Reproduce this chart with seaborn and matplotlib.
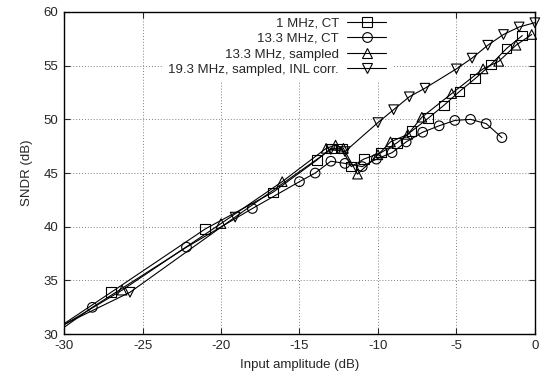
import numpy as np
import matplotlib
matplotlib.use('Agg')
import matplotlib.pyplot as plt
import seaborn as sns
from matplotlib.lines import Line2D

# data (x = input amplitude dB, y = SNDR dB)
# first point of each series lies left of the axis so the line enters from the edge
x_1mhz_ct = [-31, -27.0, -21.0, -16.7, -13.9, -13.0, -12.3, -11.7, -10.9, -9.8, -8.8, -7.85, -6.8, -5.8, -4.8, -3.8, -2.8, -1.8, -0.8]
y_1mhz_ct = [30.0, 33.9, 39.8, 43.2, 46.2, 47.3, 47.3, 45.6, 46.3, 46.9, 47.8, 48.9, 50.1, 51.3, 52.6, 53.8, 55.1, 56.6, 57.8]

x_13mhz_ct = [-31, -28.2, -22.2, -18.0, -15.0, -14.0, -13.0, -12.1, -11.0, -10.1, -9.1, -8.2, -7.15, -6.1, -5.1, -4.1, -3.1, -2.1]
y_13mhz_ct = [29.6, 32.5, 38.1, 41.7, 44.2, 45.0, 46.1, 45.9, 45.6, 46.3, 46.9, 47.9, 48.8, 49.4, 49.9, 50.0, 49.6, 48.3]

x_13mhz_samp = [-31, -26.3, -20.0, -16.1, -13.3, -12.7, -12.2, -11.3, -10.0, -9.2, -8.1, -7.2, -5.3, -3.3, -2.3, -1.2, -0.2]
y_13mhz_samp = [30.0, 34.1, 40.3, 44.2, 47.3, 47.6, 47.3, 44.9, 46.7, 47.9, 48.6, 50.2, 52.4, 54.7, 55.4, 56.9, 57.9]

x_19mhz_inl = [-31, -25.8, -19.1, -13.0, -12.1, -10.0, -9.0, -8.0, -7.0, -5.0, -4.0, -3.0, -2.0, -1.0, 0.0]
y_19mhz_inl = [30.2, 33.9, 40.9, 47.2, 47.0, 49.7, 50.9, 52.1, 52.9, 54.7, 55.7, 56.9, 57.9, 58.6, 59.0]

labels = ['1 MHz, CT', '13.3 MHz, CT', '13.3 MHz, sampled', '19.3 MHz, sampled, INL corr.']
markers = ['s', 'o', '^', 'v']
series = [(x_1mhz_ct, y_1mhz_ct), (x_13mhz_ct, y_13mhz_ct),
          (x_13mhz_samp, y_13mhz_samp), (x_19mhz_inl, y_19mhz_inl)]

sns.set_style('ticks')
plt.rcParams['font.family'] = ['Liberation Sans', 'DejaVu Sans']
plt.rcParams['font.size'] = 9.5
plt.rcParams['axes.unicode_minus'] = False

fig = plt.figure(figsize=(5.43, 3.85), dpi=100)
ax = fig.add_axes([0.118, 0.132, 0.867, 0.837])

handles = []
for (xs, ys), lab, m in zip(series, labels, markers):
    # line (clipped to the axes)
    sns.lineplot(x=xs, y=ys, ax=ax, color='black', linewidth=0.8,
                 sort=False, estimator=None, legend=False)
    # markers, skip the off-axis start point, drawn unclipped like gnuplot
    sns.scatterplot(x=xs[1:], y=ys[1:], ax=ax, marker=m, s=48,
                    facecolor='none', edgecolor='black', linewidth=0.8,
                    legend=False, clip_on=False, zorder=3)
    handles.append(Line2D([], [], color='black', linewidth=0.8, marker=m,
                          markersize=7, markerfacecolor='none',
                          markeredgecolor='black', markeredgewidth=0.8))

ax.set_xlim(-30, 0)
ax.set_ylim(30, 60)
ax.set_xticks(np.arange(-30, 1, 5))
ax.set_yticks(np.arange(30, 61, 5))
ax.grid(True, linestyle=(0, (1, 2)), color='gray', linewidth=0.7)
ax.tick_params(direction='in', top=True, right=True, length=4, width=0.8,
               labelsize=9.5, pad=4)
for sp in ax.spines.values():
    sp.set_linewidth(1.0)
    sp.set_color('black')
    sp.set_zorder(6)

ax.set_xlabel('Input amplitude (dB)', fontsize=9.5, labelpad=5)
ax.set_ylabel('SNDR (dB)', fontsize=9.5, labelpad=8)

# gnuplot-style key: text right aligned, sample after it, opaque box without border
leg = ax.legend(handles, labels, loc='upper right', bbox_to_anchor=(0.696, 1.0),
                frameon=True, markerfirst=False, handlelength=3.0,
                handletextpad=0.6, labelspacing=0.25, fontsize=9.5,
                borderaxespad=0.0, borderpad=0.4, fancybox=False)
leg.get_frame().set_facecolor('white')
leg.get_frame().set_edgecolor('none')
leg.get_frame().set_alpha(1.0)

fig.savefig('out.png', dpi=100)
